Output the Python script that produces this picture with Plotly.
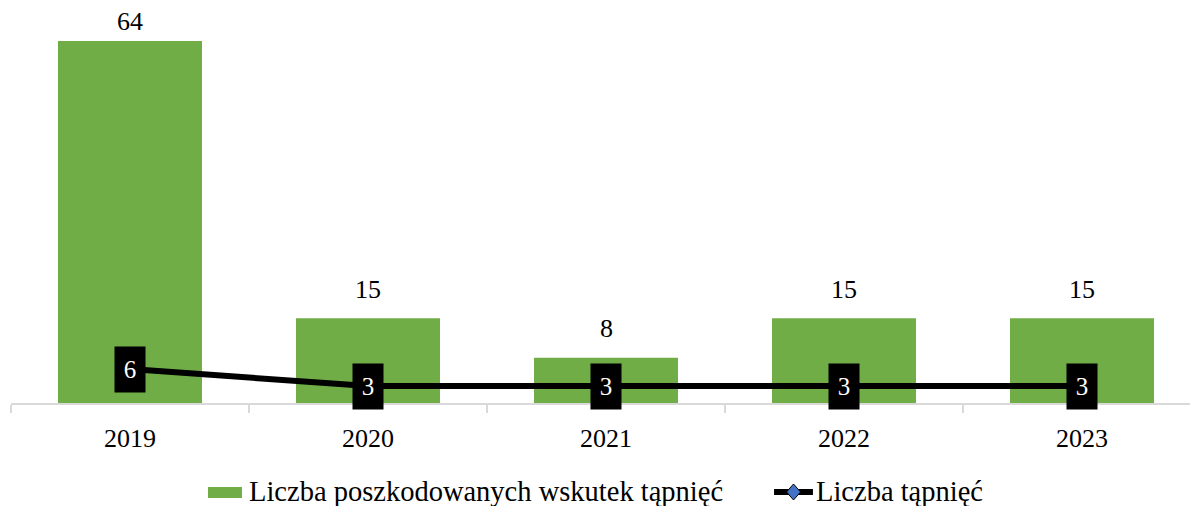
import plotly.graph_objects as go

years = ["2019", "2020", "2021", "2022", "2023"]
injured = [64, 15, 8, 15, 15]
tremors = [6, 3, 3, 3, 3]

injured_name = "Liczba poszkodowanych wskutek tąpnięć"
tremors_name = "Liczba tąpnięć"

FONT = "Liberation Serif"
GREEN = "#70AD47"
BLUE = "#4472C4"

Y_MAX = 70
PLOT_H = 396          # plot area height in px
PX_PER_UNIT = PLOT_H / Y_MAX

fig = go.Figure()

fig.add_trace(go.Bar(
    x=years, y=injured,
    name=injured_name,
    marker=dict(color=GREEN, line=dict(width=0)),
    cliponaxis=False,
))

fig.add_trace(go.Scatter(
    x=years, y=tremors,
    name=tremors_name,
    mode="lines",
    line=dict(color="#000000", width=6),
    cliponaxis=False,
))

# value labels above the bars (kept inside the top of the plot area)
for i, v in enumerate(injured):
    room = (Y_MAX - v) * PX_PER_UNIT
    shift = min(29, room - 15)
    fig.add_annotation(
        x=i, y=v, xref="x", yref="y", text=str(v), showarrow=False,
        yanchor="middle", yshift=shift,
        font=dict(family=FONT, size=26, color="#000000"),
    )

# black value boxes sitting on the line points
for i, v in enumerate(tremors):
    fig.add_annotation(
        x=i, y=v, xref="x", yref="y", text=str(v), showarrow=False,
        font=dict(family=FONT, size=25, color="#FFFFFF"),
        bgcolor="#000000", width=30, height=45, borderpad=0,
        align="center", valign="middle",
    )

# legend drawn below the axis (paper coordinates)
LEG_Y = -0.2247
shapes = [
    dict(type="rect", xref="paper", yref="paper",
         x0=0.1671, x1=0.1959, y0=-0.2399, y1=-0.2121,
         fillcolor=GREEN, line=dict(width=0)),
    dict(type="line", xref="paper", yref="paper",
         x0=0.6472, x1=0.6802, y0=LEG_Y, y1=LEG_Y,
         line=dict(color="#000000", width=6)),
    dict(type="path", xref="paper", yref="paper",
         path=("M 0.6578 {y} L 0.6637 {t} L 0.6697 {y} L 0.6637 {b} Z"
               .format(y=LEG_Y, t=LEG_Y + 0.0202, b=LEG_Y - 0.0202)),
         fillcolor=BLUE, line=dict(color="#000000", width=1)),
]
fig.add_annotation(x=0.2002, y=LEG_Y, xref="paper", yref="paper",
                   xanchor="left", yanchor="middle", showarrow=False,
                   text=injured_name,
                   font=dict(family=FONT, size=28.5, color="#000000"))
fig.add_annotation(x=0.6810, y=LEG_Y, xref="paper", yref="paper",
                   xanchor="left", yanchor="middle", showarrow=False,
                   text=tremors_name,
                   font=dict(family=FONT, size=28.5, color="#000000"))

fig.update_layout(
    width=1190, height=506,
    margin=dict(l=11, r=0, t=7, b=103),
    paper_bgcolor="#FFFFFF", plot_bgcolor="#FFFFFF",
    bargap=0.395,
    font=dict(family=FONT, size=25, color="#000000"),
    showlegend=False,
    shapes=shapes,
    xaxis=dict(
        type="category", range=[-0.5, 4.4538],
        showline=True, linecolor="#D9D9D9", linewidth=2,
        ticks="outside", tickson="boundaries", ticklen=8,
        tickcolor="#D9D9D9", tickwidth=2,
        tickfont=dict(family=FONT, size=26, color="#000000"),
        ticklabelstandoff=11,
        tickangle=0,
        showgrid=False, zeroline=False,
    ),
    yaxis=dict(
        range=[0, Y_MAX], visible=False, showgrid=False, zeroline=False,
    ),
)

fig.write_html("out.html")
